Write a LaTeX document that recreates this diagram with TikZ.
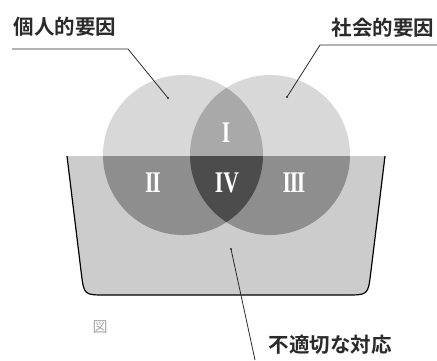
\documentclass[tikz,border=0pt]{standalone}
\usepackage{fontspec}
\newfontfamily\jp{Noto Sans CJK JP}[BoldFont={Noto Sans CJK JP Bold}]
\newfontfamily\rmn{Liberation Serif}
\definecolor{cA}{HTML}{D8D8D8}
\definecolor{cB}{HTML}{A9A9A9}
\definecolor{cC}{HTML}{CCCCCC}
\definecolor{cD}{HTML}{8E8E8E}
\definecolor{cE}{HTML}{4C4C4C}
\definecolor{txt}{HTML}{2A2A2A}
\tikzset{
  lc/.style={insert path={(183,155) circle[radius=80]}},
  rc/.style={insert path={(270,155) circle[radius=80]}},
  bowl/.style={insert path={(67,156) -- (81.3,273.2) .. controls (84,295) .. (106,295) -- (346,295) .. controls (368,295) .. (370.7,273.2) -- (385,156) -- cycle}},
  lbl/.style={font=\jp\bfseries\fontsize{20.5}{20.5}\selectfont, text=txt, inner sep=0pt},
  num/.style={font=\rmn\bfseries\fontsize{30}{30}\selectfont, text=white, inner sep=0pt},
  leader/.style={draw=txt, line width=0.8pt},
  dotm/.style={fill=txt, circle, inner sep=0pt, minimum size=2.4pt}
}
\newcommand{\rn}[1]{\scalebox{0.72}[1]{#1}}
\begin{document}
\begin{tikzpicture}[x=1pt,y=-1pt]
\useasboundingbox (0,0) rectangle (437,360);
% circles outside the bowl
\fill[cA, lc];
\fill[cA, rc];
\begin{scope}
  \clip[lc];
  \fill[cB, rc];
\end{scope}
% bowl
\fill[cC, bowl];
\begin{scope}
  \clip[bowl];
  \fill[cD, lc];
  \fill[cD, rc];
  \begin{scope}
    \clip[lc];
    \fill[cE, rc];
  \end{scope}
\end{scope}
% bowl outline (open at top)
\draw[black, line width=1.2pt] (67,156) -- (81.3,273.2) .. controls (84,295) .. (106,295) -- (346,295) .. controls (368,295) .. (370.7,273.2) -- (385,156);
% numerals
\node[num] (n1) at (226,133) {\rn{I}};
\node[num] (n2) at (153,183) {\rn{I\kern-0.06em I}};
\node[num] (n4) at (227,183) {\rn{IV}};
\node[num] (n3) at (294,183) {\rn{I\kern-0.06em I\kern-0.06em I}};
% labels
\node[lbl] (l1) at (65,27) {個人的要因};
\node[lbl] (l2) at (383,28) {社会的要因};
\node[lbl] (l3) at (330,345) {不適切な対応};
\node[font=\jp\fontsize{15}{15}\selectfont, text=gray!70, inner sep=0pt] (fig) at (100,327) {図};
% leader lines
\coordinate (a0) at (12,49);
\coordinate (a1) at (128,49);
\node[dotm] (d1) at (168,98) {};
\coordinate (b0) at (437,45);
\coordinate (b1) at (320,45);
\node[dotm] (d2) at (287,97) {};
\node[dotm] (d3) at (231,249) {};
\coordinate (c0) at (255,360);
\draw[leader] (a0) -- (a1) -- (d1.center);
\draw[leader] (b0) -- (b1) -- (d2.center);
\draw[leader] (d3.center) -- (c0);
\end{tikzpicture}
\end{document}
